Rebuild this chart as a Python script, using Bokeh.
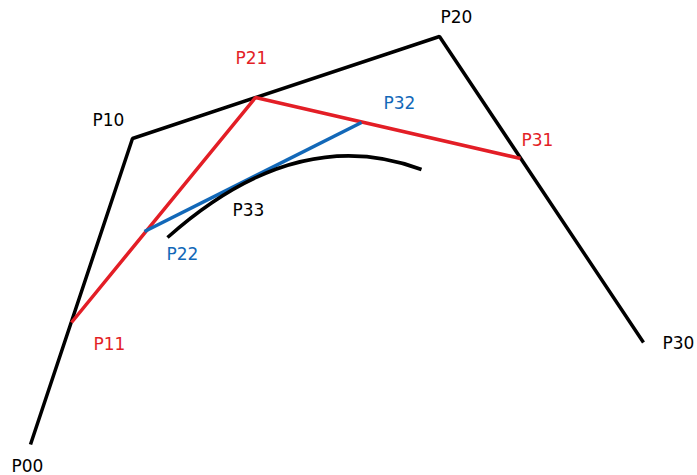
from bokeh.plotting import figure
from bokeh.models import Range1d, ColumnDataSource
from bokeh.core.properties import value
from bokeh.embed import file_html
from bokeh.resources import INLINE

# Control polygon (reference pixel coordinates, y downward)
ctrl_x = [30, 132, 439, 643]
ctrl_y = [444, 138, 36, 342]

# Second level (red)
red_x = [71, 255, 520]
red_y = [322, 97, 158]

# Third level (blue)
blue_x = [144, 361]
blue_y = [231, 122]

# Curve segment as quadratic Bezier: start, end, control
curve_start = (167, 237)
curve_end = (421, 169)
curve_ctrl = (296, 122)

# Labels: text, left x, vertical centre y, colour
labels = ["P00", "P10", "P20", "P30", "P11", "P21", "P31", "P22", "P32", "P33"]
label_x = [11, 92, 440, 662, 93, 235, 521, 166, 383, 232]
label_y = [465, 119, 16, 342, 343, 57, 139, 253, 102, 209]
label_c = ["black", "black", "black", "black",
           "#e31e26", "#e31e26", "#e31e26",
           "#1268b8", "#1268b8", "black"]

RED = "#e31e26"
BLUE = "#1268b8"

p = figure(width=697, height=475, output_backend="svg", toolbar_location=None,
           x_range=Range1d(0, 697), y_range=Range1d(475, 0), min_border=0)
p.axis.visible = False
p.grid.visible = False
p.outline_line_color = None
p.background_fill_color = "white"
p.border_fill_color = "white"

p.line(ctrl_x, ctrl_y, line_color="black", line_width=3.5)
p.line(red_x, red_y, line_color=RED, line_width=3.5)
p.line(blue_x, blue_y, line_color=BLUE, line_width=3.5)
p.quadratic(x0=[curve_start[0]], y0=[curve_start[1]],
            x1=[curve_end[0]], y1=[curve_end[1]],
            cx=[curve_ctrl[0]], cy=[curve_ctrl[1]],
            line_color="black", line_width=3.5)

src = ColumnDataSource(dict(x=label_x, y=label_y, t=labels, c=label_c))
p.text(x="x", y="y", text="t", text_color="c", source=src,
       text_font=value("DejaVu Sans"), text_font_size="17px",
       text_align="left", text_baseline="middle")

open("out.html", "w").write(file_html(p, INLINE))
